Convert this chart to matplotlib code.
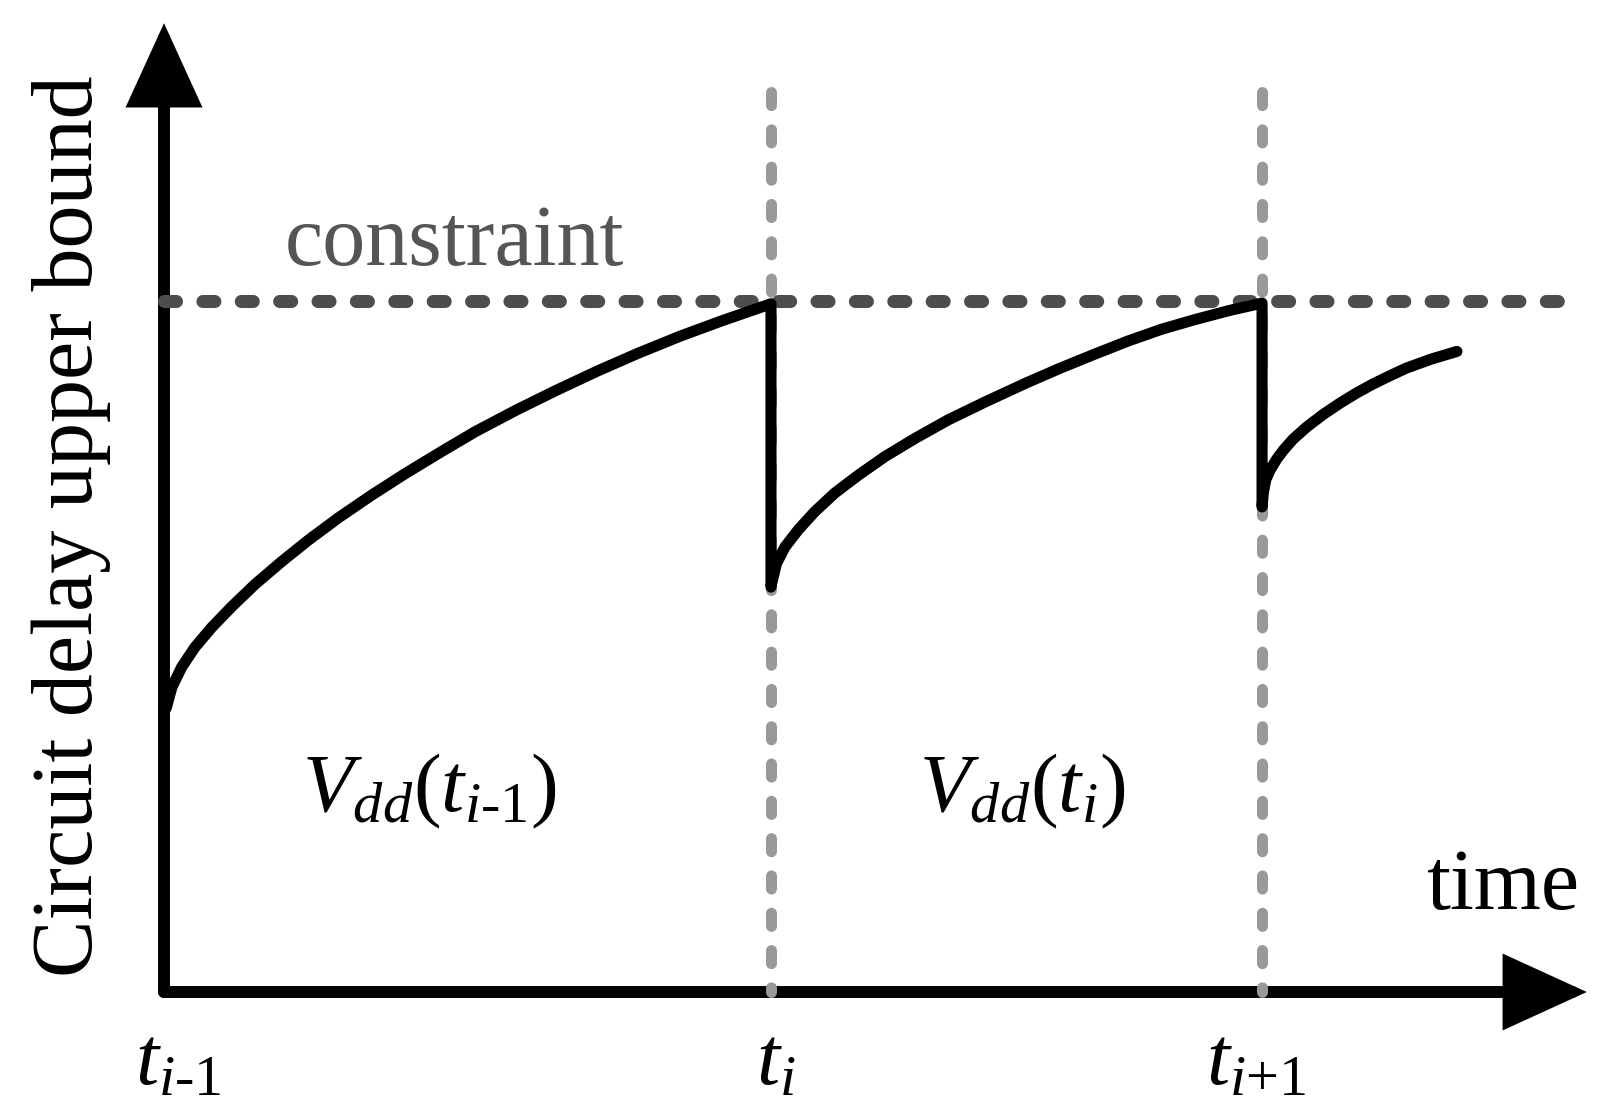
import matplotlib
matplotlib.use("Agg")
import matplotlib.pyplot as plt
from matplotlib.patches import FancyArrowPatch, ArrowStyle

plt.rcParams['font.family'] = ['Liberation Serif', 'DejaVu Serif']
plt.rcParams['mathtext.fontset'] = 'custom'
plt.rcParams['mathtext.rm'] = 'Liberation Serif'
plt.rcParams['mathtext.it'] = 'Liberation Serif:italic'

# time axis: t_{i-1}=0, t_i=1 ; delay axis: constraint = 1
t_events = [0.0, 1.0, 1.809]
t_labels = [r'$t_{i‐1}$', r'$t_{i}$', r'$t_{i{+}1}$']
t_label_x = [0.023, 1.008, 1.799]
constraint = 1.0

# delay upper bound (three segments)
x1 = [0.0, 0.004, 0.013, 0.029, 0.051, 0.079, 0.112, 0.150, 0.194, 0.238,
      0.287, 0.342, 0.397, 0.457, 0.513, 0.58, 0.647, 0.715, 0.78, 0.85,
      0.918, 1.0]
y1 = [0.405, 0.412, 0.441, 0.470, 0.499, 0.528, 0.558, 0.590, 0.623, 0.654,
      0.686, 0.719, 0.750, 0.782, 0.811, 0.842, 0.871, 0.899, 0.924, 0.949,
      0.971, 0.996]
x2 = [1.0, 1.001, 1.009, 1.023, 1.045, 1.072, 1.105, 1.144, 1.188, 1.237,
      1.292, 1.353, 1.422, 1.477, 1.533, 1.588, 1.643, 1.698, 1.754, 1.809]
y2 = [0.586, 0.591, 0.620, 0.644, 0.669, 0.695, 0.722, 0.748, 0.775, 0.801,
      0.828, 0.854, 0.882, 0.903, 0.923, 0.942, 0.959, 0.973, 0.986, 0.997]
x3 = [1.809, 1.811, 1.815, 1.822, 1.833, 1.844, 1.860, 1.883, 1.910, 1.937,
      1.965, 1.992, 2.020, 2.047, 2.088, 2.130]
y3 = [0.702, 0.722, 0.741, 0.755, 0.771, 0.784, 0.800, 0.818, 0.836, 0.852,
      0.867, 0.880, 0.892, 0.903, 0.916, 0.927]

vdd_labels = [r'$V_{dd}(t_{i‐1})$', r'$V_{dd}(t_{i})$']
vdd_x = [0.438, 1.413]

fig = plt.figure(figsize=(16.11, 11.13), dpi=100)
ax = fig.add_axes([0, 0, 1, 1])
ax.set_xlim(-164 / 607, (1611 - 164) / 607)
ax.set_ylim((992 - 1113) / 691, 992 / 691)
ax.axis('off')

# axes with arrow heads
head = ArrowStyle('-|>', head_length=46, head_width=21)
for end in [(0, 1.402), (2.344, 0)]:
    ax.add_patch(FancyArrowPatch((0, 0), end, arrowstyle=head, mutation_scale=1,
                                 lw=8.6, color='black', shrinkA=0, shrinkB=0,
                                 joinstyle='miter', capstyle='round', zorder=1))

# event times
for t in t_events[1:]:
    ax.plot([t, t], [1.302, 0.0], color='#999999', lw=7.9,
            dashes=(1.2, 2.2), dash_capstyle='round', zorder=2)

# constraint
ax.plot([0.0, 2.33], [constraint, constraint], color='#4d4d4d', lw=9.4,
        dashes=(0.92, 2.02), dash_capstyle='round', zorder=3)

ax.plot(x1 + x2 + x3, y1 + y2 + y3, color='black', lw=8.0,
        solid_capstyle='round', solid_joinstyle='round', zorder=4)

ax.text(0.478, 1.052, 'constraint', color='#555555', fontsize=62,
        ha='center', va='baseline')
ax.text(-0.152, 0.674, 'Circuit delay upper bound', fontsize=62,
        rotation=90, ha='center', va='center')
ax.text(2.206, 0.120, 'time', fontsize=62, ha='center', va='baseline')

for lx, lab in zip(t_label_x, t_labels):
    ax.text(lx, -0.133, lab, fontsize=60, ha='center', va='baseline')
for lx, lab in zip(vdd_x, vdd_labels):
    ax.text(lx, 0.261, lab, fontsize=60, ha='center', va='baseline')

fig.savefig('out.png', dpi=100)
